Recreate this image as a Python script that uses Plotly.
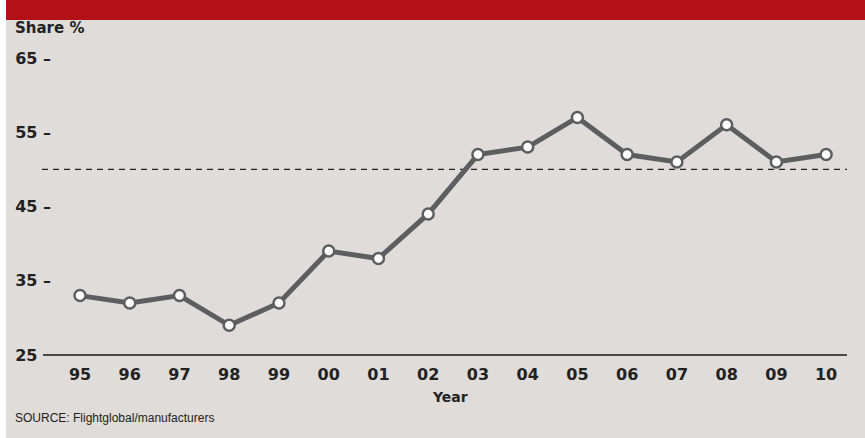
import plotly.graph_objects as go

years = ["95", "96", "97", "98", "99", "00", "01", "02", "03", "04", "05", "06", "07", "08", "09", "10"]
share = [33, 32, 33, 29, 32, 39, 38, 44, 52, 53, 57, 52, 51, 56, 51, 52]
ref_level = 50
y_ticks = [25, 35, 45, 55, 65]
y_tick_text = ["25<span style='color:rgba(0,0,0,0)'> –</span>", "35 –", "45 –", "55 –", "65 –"]

W, H = 865, 438
L, R, T, B = 52, 847, 58, 355
pw, ph = R - L, B - T

def px(x):
    return (x - L) / pw

def py(y):
    return (B - y) / ph

BG = "#e0dcd9"
RED = "#b31118"
LINE = "#5e5e60"
TXT = "#222222"
FONT = "DejaVu Sans, Arial, sans-serif"

xi = list(range(len(years)))

fig = go.Figure()
fig.add_trace(go.Scatter(
    x=xi, y=share, mode="lines+markers",
    line=dict(color=LINE, width=5),
    marker=dict(size=11, color="white", line=dict(color=LINE, width=2.5)),
    cliponaxis=False, hoverinfo="skip", showlegend=False,
))

shapes = [
    dict(type="rect", xref="paper", yref="paper", x0=px(0), x1=px(6), y0=py(H), y1=py(0),
         fillcolor="white", line=dict(width=0), layer="below"),
    dict(type="rect", xref="paper", yref="paper", x0=px(6), x1=px(W + 2), y0=py(20), y1=py(-2),
         fillcolor=RED, line=dict(width=0), layer="below"),
    dict(type="line", xref="paper", yref="y", x0=px(42), x1=px(847), y0=ref_level, y1=ref_level,
         line=dict(color="#222222", width=1.3, dash="6px,5px"), layer="below"),
    dict(type="line", xref="paper", yref="paper", x0=px(43), x1=px(847), y0=0, y1=0,
         line=dict(color="#4a4a4a", width=2), layer="below"),
]

annotations = [
    dict(text="<b>Share %</b>", xref="paper", yref="paper", x=px(13), y=py(28),
         xanchor="left", yanchor="middle", showarrow=False,
         font=dict(family=FONT, size=15, color=TXT)),
    dict(text="<b>Year</b>", xref="paper", yref="paper", x=px(450), y=py(397),
         xanchor="center", yanchor="middle", showarrow=False,
         font=dict(family=FONT, size=14, color=TXT)),
    dict(text="SOURCE: Flightglobal/manufacturers", xref="paper", yref="paper", x=px(13), y=py(418),
         xanchor="left", yanchor="middle", showarrow=False,
         font=dict(family="Liberation Sans Narrow, Arial Narrow, Liberation Sans, Arial, sans-serif",
                   size=12, color=TXT)),
]

fig.update_layout(
    width=W, height=H,
    margin=dict(l=L, r=W - R, t=T, b=H - B, pad=0),
    paper_bgcolor=BG, plot_bgcolor=BG,
    shapes=shapes, annotations=annotations,
    xaxis=dict(range=[-0.563, 15.42], tickvals=xi, ticktext=years, showgrid=False,
               zeroline=False, showline=False, ticks="", fixedrange=True,
               ticklabelstandoff=8,
               tickfont=dict(family=FONT, size=16, color=TXT, weight="bold")),
    yaxis=dict(range=[25, 65], tickvals=y_ticks, ticktext=y_tick_text, showgrid=False,
               zeroline=False, showline=False, ticks="", fixedrange=True,
               tickfont=dict(family=FONT, size=16, color=TXT, weight="bold")),
)

fig.write_html("out.html")
